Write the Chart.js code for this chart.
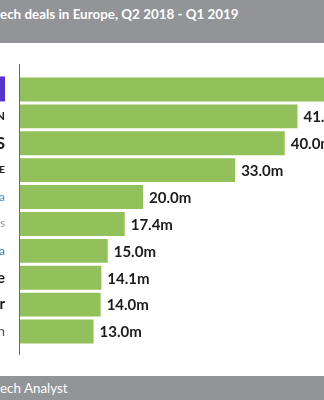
<!DOCTYPE html>
<html>
<head>
<meta charset="utf-8">
<script src="https://cdn.jsdelivr.net/npm/chart.js@4.4.1/dist/chart.umd.min.js"></script>
<style>
  html, body { margin: 0; padding: 0; background: #ffffff; width: 324px; height: 400px; overflow: hidden; }
  #head { position: absolute; left: 0; top: 0; width: 324px; height: 43px; background: #939498;
          color: #ffffff; font-family: Lato, "Open Sans", sans-serif; font-weight: bold; font-size: 13.4px;
          line-height: 18px; padding-top: 5px; box-sizing: border-box; white-space: nowrap; overflow: hidden; }
  #foot { position: absolute; left: 0; top: 376px; width: 324px; height: 24px; background: #939498;
          color: #ffffff; font-family: Lato, "Open Sans", sans-serif; font-size: 13.4px;
          line-height: 24px; white-space: nowrap; overflow: hidden; }
  #wrap { position: absolute; left: 0; top: 43px; width: 324px; height: 333px; }
</style>
</head>
<body>
<div id="head">ech deals in Europe, Q2 2018 - Q1 2019</div>
<div id="wrap"><canvas id="c" width="324" height="333"></canvas></div>
<div id="foot">ech Analyst</div>
<script>
// Categories (only the right-most fragments of the logos are visible in the picture)
const categories = ["", "N", "S", "E", "a", "s", "a", "e", "r", "n"];
// Deal values in millions (first bar runs off the picture; estimated)
const values = [50.0, 41.8, 40.0, 33.0, 20.0, 17.4, 15.0, 14.1, 14.0, 13.0];
const valueLabels = ["", "41.8m", "40.0m", "33.0m", "20.0m", "17.4m", "15.0m", "14.1m", "14.0m", "13.0m"];
// Styling of the logo fragments
const labelColors = ["#5533cc", "#222222", "#222222", "#222222", "#4a8fc4", "#9a9a9a", "#2f7fb8", "#1a1a1a", "#1a1a1a", "#555555"];
const labelFonts = [
  {size: 12, weight: "bold"}, {size: 12, weight: "bold"}, {size: 17, weight: "bold"}, {size: 10, weight: "bold"},
  {size: 12, weight: "normal"}, {size: 11, weight: "normal"}, {size: 12, weight: "normal"},
  {size: 15, weight: "bold"}, {size: 15, weight: "bold"}, {size: 14, weight: "normal"}
];

const valueLabelPlugin = {
  id: "valueLabels",
  afterDatasetsDraw(chart) {
    const ctx = chart.ctx;
    const meta = chart.getDatasetMeta(0);
    ctx.save();
    ctx.font = "bold 15px Lato, 'Open Sans', sans-serif";
    ctx.fillStyle = "#1c1c1c";
    ctx.textAlign = "left";
    ctx.textBaseline = "middle";
    meta.data.forEach((bar, i) => {
      if (valueLabels[i]) ctx.fillText(valueLabels[i], bar.x + 6, bar.y + 1);
    });
    ctx.restore();
  }
};

const axisLinePlugin = {
  id: "axisLine",
  afterDraw(chart) {
    const ctx = chart.ctx;
    const a = chart.chartArea;
    ctx.save();
    ctx.strokeStyle = "#6a6a6a";
    ctx.lineWidth = 1;
    ctx.beginPath();
    ctx.moveTo(Math.round(a.left) - 0.5, a.top - 12);
    ctx.lineTo(Math.round(a.left) - 0.5, a.bottom + 10);
    ctx.stroke();
    // purple logo fragment of the first row
    const ys = chart.scales.y;
    const y0 = ys.getPixelForValue(0);
    ctx.fillStyle = labelColors[0];
    ctx.fillRect(0, y0 - 13, 5, 25);
    ctx.restore();
  }
};

new Chart(document.getElementById("c"), {
  type: "bar",
  data: {
    labels: categories,
    datasets: [{
      data: values,
      backgroundColor: "#92c05a",
      borderWidth: 0,
      barPercentage: 0.89,
      categoryPercentage: 1.0,
      clip: 0
    }]
  },
  options: {
    indexAxis: "y",
    responsive: false,
    animation: false,
    layout: { padding: { top: 33, bottom: 31, left: 0, right: 0 } },
    plugins: { legend: { display: false }, tooltip: { enabled: false }, title: { display: false } },
    scales: {
      x: {
        display: false,
        min: 2.61,
        max: 45.55
      },
      y: {
        afterFit(scale) { scale.width = 20; },
        grid: { display: false, drawTicks: false },
        border: { display: false },
        ticks: {
          padding: 15,
          color: (c) => labelColors[c.index],
          font: (c) => ({ family: "Lato, 'Open Sans', sans-serif", size: labelFonts[c.index].size, weight: labelFonts[c.index].weight })
        }
      }
    }
  },
  plugins: [valueLabelPlugin, axisLinePlugin]
});
</script>
</body>
</html>
